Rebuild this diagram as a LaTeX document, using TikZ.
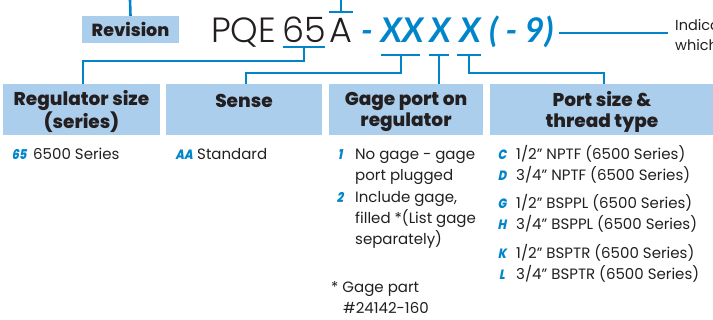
\documentclass[tikz,border=0pt]{standalone}
\usepackage{fontspec}
\setmainfont{Poppins}
\newfontfamily\hdrfont{Poppins ExtraBold}
\newfontfamily\lightfont{Poppins Light}
\newfontfamily\codefont{Poppins ExtraBold}[FakeSlant=0.2, FakeStretch=0.85]
\newfontfamily\bigcodefont{Lato}
\definecolor{lineblue}{RGB}{0,133,202}
\definecolor{boxblue}{RGB}{171,206,236}
\definecolor{txt}{RGB}{35,31,32}
\tikzset{
  hbox/.style={fill=boxblue, draw=none, inner sep=0pt, minimum height=51pt, align=center,
    text=txt, font=\hdrfont\fontsize{18.5}{21}\selectfont},
  conn/.style={draw=lineblue, line width=2.6pt},
  body/.style={inner sep=0pt, anchor=base west, text=txt, font=\fontsize{15}{21}\selectfont},
  code/.style={inner sep=0pt, anchor=base, text=lineblue, font=\codefont\fontsize{13.5}{21}\selectfont},
  big/.style={inner sep=0pt, anchor=base, text=txt, font=\lightfont\fontsize{35}{40}\selectfont},
  bigcode/.style={inner sep=0pt, anchor=base, text=lineblue, font=\bigcodefont\bfseries\itshape\fontsize{34}{40}\selectfont},
}
\begin{document}
\begin{tikzpicture}[x=1pt,y=-1pt]
\useasboundingbox (0,0) rectangle (713,320);
\clip (0,0) rectangle (713,320);
% header boxes
\node[hbox, minimum width=157pt] (b1) at (81.5,109.5) {};
\node[hbox, minimum width=156pt] (b2) at (244,109.5) {};
\node[hbox, minimum width=154pt] (b3) at (406,109.5) {};
\node[hbox, minimum width=226pt] (b4) at (603,109.5) {};
\node[hbox, fill=none, minimum height=0pt] (b1t) at (81.5,111.5) {Regulator size\\(series)};
\node[hbox, fill=none, minimum height=0pt] (b2t) at (244,111.5) {Sense\\\mbox{}};
\node[hbox, fill=none, minimum height=0pt] (b3t) at (406,111.5) {Gage port on\\regulator};
\node[hbox, fill=none, minimum height=0pt] (b4t) at (602,111.5) {Port size \&\\thread type};
\node[fill=boxblue, inner sep=0pt, minimum width=97pt, minimum height=27pt, text=txt,
  font=\hdrfont\fontsize{17.5}{18}\selectfont] (rev) at (130.5,29.5) {Revision};
\coordinate (revtop) at (130,0);
\draw[conn] (rev.north) -- (revtop);
% part number
\node[big, anchor=base west] (pqe) at (211,43) {PQE};
\node[big] (n65) at (304,43) {65};
\node[big] (nA) at (341,43) {A};
\node[bigcode] (dash) at (367,43) {-};
\node[bigcode] (xx) at (402,43) {XX};
\node[bigcode] (x1) at (440,43) {X};
\node[bigcode] (x2) at (470,43) {X};
\node[bigcode, anchor=base west] (nine) at (489,43) {( - 9)};
\node[body, font=\fontsize{14.5}{19}\selectfont] (ind1) at (675,31) {Indicates};
\node[body, font=\fontsize{14.5}{19}\selectfont] (ind2) at (675,51) {which};
\coordinate (indl) at (668,33);
\coordinate (ninee) at (559,33);
\draw[conn] (ninee) -- (indl);
% underlines and connectors
\coordinate (u65l) at (283,47); \coordinate (u65r) at (325,47); \coordinate (u65m) at (304,47);
\draw[conn] (u65l) -- (u65r);
\draw[conn] (u65m) -- ++(0,14) -| ([xshift=1.5pt]b1.north);
\coordinate (oAl) at (329,12); \coordinate (oAr) at (353,12); \coordinate (oAm) at (341,12);
\draw[conn] (oAl) -- (oAr);
\draw[conn] (oAm) -- (oAm |- revtop);
\coordinate (uxxl) at (381,55); \coordinate (uxxr) at (420,55); \coordinate (uxxm) at (401,55);
\draw[conn] (uxxl) -- (uxxr);
\draw[conn] (uxxm) -- ++(0,18) -| ([xshift=2pt]b2.north);
\coordinate (ux1l) at (429,55); \coordinate (ux1r) at (449,55); \coordinate (ux1m) at (439,55);
\draw[conn] (ux1l) -- (ux1r);
\draw[conn] (ux1m) -- (ux1m |- b3.north);
\coordinate (ux2l) at (457,55); \coordinate (ux2r) at (481,55); \coordinate (ux2m) at (469,55);
\draw[conn] (ux2l) -- (ux2r);
\coordinate (b4top) at (604,84);
\draw[conn] (ux2m) -- ++(0,18) -| (b4top);
% column 1
\node[code] (c65) at (19,160) {65};
\node[body] (t65) at (33,160) {6500 Series};
% column 2
\node[code] (caa) at (184,160) {AA};
\node[body] (taa) at (197,160) {Standard};
% column 3
\node[code] (c1) at (340,160) {1};
\node[body] (t1a) at (355,160) {No gage - gage};
\node[body] (t1b) at (355,181) {port plugged};
\node[code] (c2) at (340,203) {2};
\node[body] (t2a) at (355,203) {Include gage,};
\node[body] (t2b) at (355,224) {filled *(List gage};
\node[body] (t2c) at (355,245) {separately)};
\node[body] (n1) at (331,293) {* Gage part};
\node[body] (n2) at (343,314) {\#24142-160};
% column 4
\node[code] (cC) at (502,160) {C};
\node[body] (tC) at (516,160) {1/2” NPTF (6500 Series)};
\node[code] (cD) at (502,181) {D};
\node[body] (tD) at (516,181) {3/4” NPTF (6500 Series)};
\node[code] (cG) at (502,209) {G};
\node[body] (tG) at (516,209) {1/2” BSPPL (6500 Series)};
\node[code] (cH) at (502,230) {H};
\node[body] (tH) at (516,230) {3/4” BSPPL (6500 Series)};
\node[code] (cK) at (502,259) {K};
\node[body] (tK) at (516,259) {1/2” BSPTR (6500 Series)};
\node[code] (cL) at (502,280) {L};
\node[body] (tL) at (516,280) {3/4” BSPTR (6500 Series)};
\end{tikzpicture}
\end{document}
